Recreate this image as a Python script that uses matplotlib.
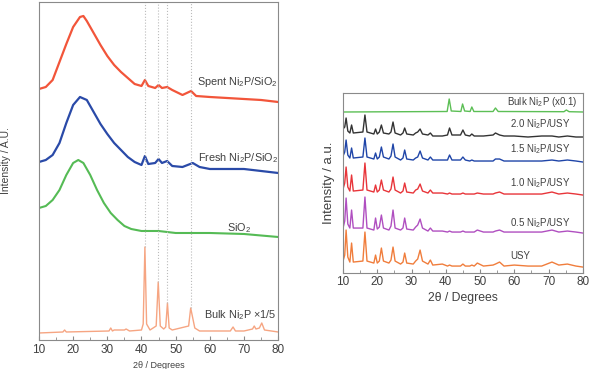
import matplotlib
matplotlib.use("Agg")
import matplotlib.pyplot as plt

plt.rcParams['font.family'] = ['Liberation Sans', 'DejaVu Sans']
plt.rcParams['mathtext.fontset'] = 'custom'
plt.rcParams['mathtext.rm'] = 'Liberation Sans'
plt.rcParams['mathtext.it'] = 'Liberation Sans:italic'
plt.rcParams['mathtext.bf'] = 'Liberation Sans:bold'

# ---- left panel: Ni2P/SiO2 patterns (intensity above each curve's own baseline)
x_spent = [10, 12, 14, 16, 18, 20, 22, 23, 24, 26, 28, 30, 32, 34, 36, 38, 40, 41, 42, 44,
           45, 46, 47.5, 49, 52, 54.5, 56, 60, 65, 70, 75, 80]
y_spent = [13, 15, 22, 40, 58, 75, 85, 86, 81, 69, 57, 46, 37, 30, 24, 18, 16, 22, 16, 14,
           17, 14, 15, 12, 7, 11, 6, 5, 4, 3, 2, 0]

x_fresh = [10, 12, 14, 16, 18, 20, 22, 24, 26, 28, 30, 32, 34, 36, 38, 40, 41, 42, 44,
           45, 46, 47.5, 49, 52, 55, 57, 60, 65, 70, 75, 80]
y_fresh = [11, 13, 18, 30, 50, 68, 76, 73, 61, 49, 39, 30, 23, 16, 11, 8, 17, 9, 10,
           14, 10, 12, 7, 6, 10, 6, 4, 4, 4, 2, 0]

x_sio2 = [10, 12, 14, 16, 18, 20, 21.5, 23, 25, 27, 29, 31, 33, 35, 37, 40, 45, 50, 60, 70, 80]
y_sio2 = [29, 31, 37, 47, 62, 74, 77, 74, 62, 47, 34, 24, 17, 11, 8, 6, 6, 4, 4, 3, 0]

x_bulk = [10, 17, 17.5, 18, 30.5, 31, 31.5, 32, 35, 35.5, 36.5, 40, 40.5, 41.0, 41.5, 42.5,
          44.3, 44.9, 45.5, 46.5, 47.1, 47.6, 48.1, 49, 53.8, 54.4, 55, 55.6, 57, 66, 66.8,
          67.5, 70, 72.5, 73, 73.5, 74.5, 75.2, 76, 80]
y_bulk = [7, 8, 10, 8, 9, 12, 9, 10, 10, 11, 9, 10, 16, 93, 16, 10,
          14, 58, 14, 11, 13, 37, 12, 10, 14, 32, 22, 12, 9, 9, 13,
          9, 9, 11, 14, 11, 12, 17, 10, 8]

ref_peaks = [41.0, 44.9, 47.6, 54.4]
ref_tops = [93, 58, 37, 32]

# ---- right panel: Ni2P/USY patterns
x_usy = [10, 10.5, 10.9, 11.4, 12.0, 12.5, 13.0, 15.8, 16.4, 17.0, 19.0, 19.5, 20.0, 20.6,
         21.2, 21.8, 23.4, 24.0, 24.6, 25.2, 26.8, 27.5, 28.0, 28.6, 30.5, 31.2, 31.8, 32.5,
         33.2, 34.8, 35.5, 36.2, 39.0, 40.5, 41.1, 41.8, 44.3, 45.0, 45.7, 47.0, 47.6, 48.3,
         49.2, 51.0, 53.8, 54.5, 55.7, 57.0, 60.0, 64.0, 68.0, 71.0, 73.0, 75.5, 78.0, 80.0]
y_usy = [6, 12, 37, 10, 5, 24, 5, 6, 35, 6, 4, 12, 4, 6, 19, 6, 4, 7, 20, 6, 3, 5, 14, 4, 3,
         6, 8, 17, 6, 3, 7, 2, 3, 1, 2, 1, 1, 3, 1, 1, 2, 1, 4, 1, 2, 3, 5, 1, 2, 1, 1, 5, 2,
         3, 1, 0]
y_05 = [5, 12, 35, 9, 5, 23, 5, 5, 36, 5, 3, 15, 4, 6, 18, 5, 3, 7, 23, 5, 3, 5, 15, 4, 3,
        6, 8, 14, 5, 2, 5, 2, 2, 1, 2, 1, 1, 2, 1, 1, 1, 1, 3, 1, 1, 2, 3, 1, 1, 1, 1, 3, 1,
        2, 1, 0]
y_10 = [6, 12, 28, 8, 4, 20, 4, 5, 32, 5, 3, 10, 3, 5, 15, 5, 3, 6, 18, 5, 2, 4, 12, 3, 2,
        5, 6, 11, 4, 2, 5, 2, 2, 1, 2, 1, 1, 2, 1, 1, 1, 1, 2, 1, 1, 2, 3, 1, 1, 1, 1, 3, 1,
        2, 1, 0]
y_15 = [6, 10, 22, 7, 4, 14, 4, 5, 24, 5, 3, 9, 3, 5, 15, 5, 3, 6, 18, 5, 2, 4, 12, 3, 2,
        4, 5, 11, 4, 2, 5, 2, 2, 2, 7, 2, 2, 5, 2, 1, 2, 1, 1, 1, 1, 3, 3, 1, 1, 1, 1, 2, 1,
        2, 1, 0]
y_20 = [8, 10, 19, 6, 4, 12, 4, 5, 22, 5, 3, 8, 3, 5, 12, 4, 3, 5, 15, 4, 2, 4, 9, 3, 2,
        4, 5, 8, 3, 2, 4, 1, 1, 2, 9, 2, 2, 7, 2, 1, 3, 1, 1, 1, 2, 4, 2, 1, 1, 0, 1, 1, 0,
        1, 0, 0]

x_bulk2 = [10, 40.4, 41.0, 41.6, 44.4, 44.9, 45.5, 47.1, 47.6, 48.2, 53.8, 54.5, 55.3,
           74.5, 75.2, 76, 80]
y_bulk2 = [0, 0.5, 13, 1, 0.5, 8, 1, 0.5, 5, 0.5, 0.5, 4, 0.5, 0.3, 2, 0.3, 0]

spine_c = '#8a8a8a'
text_c = '#404040'

fig = plt.figure(figsize=(5.95, 3.69), dpi=100)

# ================= left panel
ax1 = fig.add_axes([0.0655, 0.0786, 0.402, 0.916])
ax1.plot(x_spent, [v + 238 for v in y_spent], color='#f2553a', lw=1.6)
ax1.plot(x_fresh, [v + 167 for v in y_fresh], color='#2a4aa8', lw=1.6)
ax1.plot(x_sio2, [v + 103 for v in y_sio2], color='#55bb55', lw=1.5)
ax1.plot(x_bulk, y_bulk, color='#f6a582', lw=1.0)
ax1.vlines(ref_peaks, ref_tops, 338, colors='#bbbbbb', linestyles=':', lw=0.8)

lbl_kw = dict(fontsize=7.8, color=text_c)
ax1.text(80, 258, 'Spent Ni$_2$P/SiO$_2$', ha='right', va='center', **lbl_kw)
ax1.text(80, 182, 'Fresh Ni$_2$P/SiO$_2$', ha='right', va='center', **lbl_kw)
ax1.text(68.5, 112, 'SiO$_2$', ha='center', va='center', **lbl_kw)
ax1.text(79.5, 25, 'Bulk Ni$_2$P $\\times$1/5', ha='right', va='center', **lbl_kw)

ax1.set_xlim(10, 80)
ax1.set_ylim(0, 338)
ax1.set_xticks(range(10, 81, 10))
ax1.set_xticks(range(15, 80, 10), minor=True)
ax1.set_yticks([])
ax1.tick_params(axis='x', which='both', direction='in', colors=spine_c, labelcolor=text_c,
                labelsize=8.5, pad=3)
ax1.tick_params(axis='x', which='major', length=3)
ax1.tick_params(axis='x', which='minor', length=2)
for s in ax1.spines.values():
    s.set_color(spine_c)
ax1.set_xlabel('2θ / Degrees', fontsize=6.5, color=text_c)
ax1.xaxis.set_label_coords(0.5, -0.062)
ax1.set_ylabel('Intensity / A.U.', fontsize=7.5, color=text_c)
ax1.yaxis.set_label_coords(-0.115, 0.53)

# ================= right panel
ax2 = fig.add_axes([0.5765, 0.260, 0.403, 0.488])
ax2.plot(x_usy, [v + 6 for v in y_usy], color='#f07d3c', lw=1.0)
ax2.plot(x_usy, [v + 40 for v in y_05], color='#b04fc0', lw=1.0)
ax2.plot(x_usy, [v + 78 for v in y_10], color='#e8353a', lw=1.0)
ax2.plot(x_usy, [v + 111 for v in y_15], color='#1f45a8', lw=1.0)
ax2.plot(x_usy, [v + 136 for v in y_20], color='#333333', lw=1.0)
ax2.plot(x_bulk2, [v + 161 for v in y_bulk2], color='#5cbf55', lw=1.0)

lbl2 = dict(fontsize=7.0, color=text_c, va='center')
ax2.text(78.5, 171, 'Bulk Ni$_2$P (x0.1)', ha='right', **lbl2)
ax2.text(58.7, 149, '2.0 Ni$_2$P/USY', ha='left', **lbl2)
ax2.text(58.7, 124, '1.5 Ni$_2$P/USY', ha='left', **lbl2)
ax2.text(58.7, 90, '1.0 Ni$_2$P/USY', ha='left', **lbl2)
ax2.text(58.7, 50, '0.5 Ni$_2$P/USY', ha='left', **lbl2)
ax2.text(58.7, 17, 'USY', ha='left', **lbl2)

ax2.set_xlim(10, 80)
ax2.set_ylim(0, 180)
ax2.set_xticks(range(10, 81, 10))
ax2.set_xticks(range(15, 80, 10), minor=True)
ax2.set_yticks([])
ax2.tick_params(axis='x', which='both', direction='in', colors=spine_c, labelcolor=text_c,
                labelsize=8.5, pad=2)
ax2.tick_params(axis='x', which='major', length=3)
ax2.tick_params(axis='x', which='minor', length=2)
for s in ax2.spines.values():
    s.set_color(spine_c)
ax2.set_xlabel('2θ / Degrees', fontsize=8.8, color=text_c, labelpad=3)
ax2.set_ylabel('Intensity / a.u.', fontsize=9.5, color=text_c, labelpad=6)

fig.savefig('out.png', dpi=100)
